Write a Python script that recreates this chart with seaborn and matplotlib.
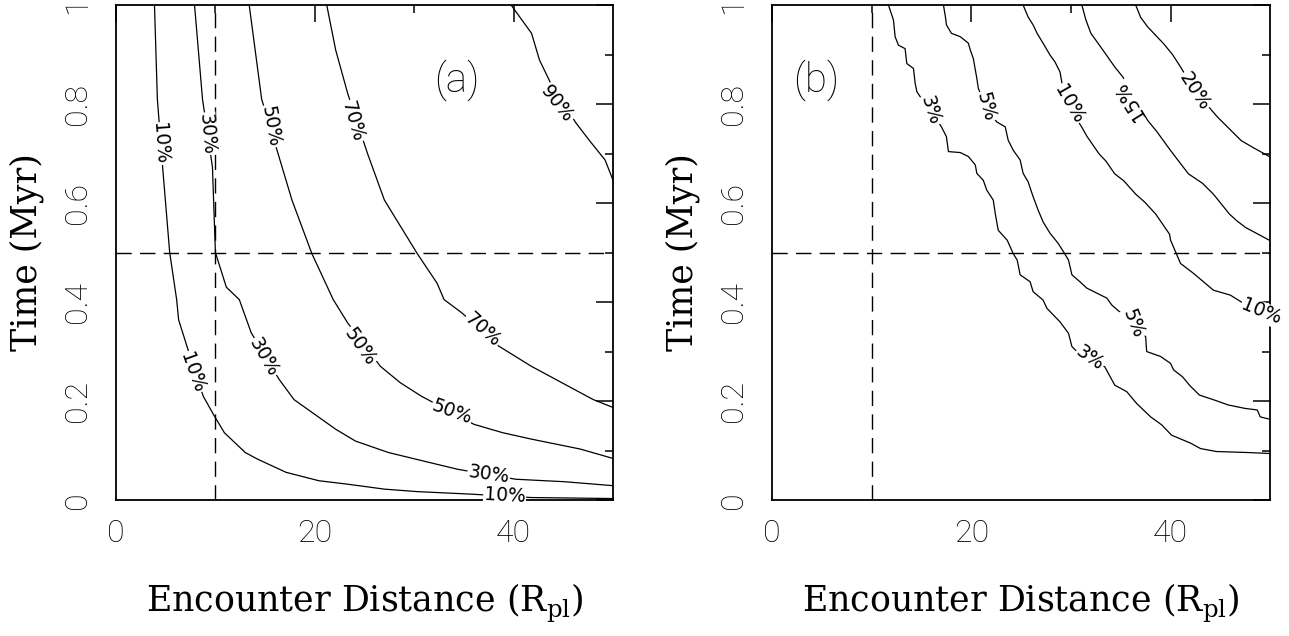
import numpy as np
import pandas as pd
import seaborn as sns
import matplotlib.pyplot as plt

sns.set_theme(style='white')
plt.rcParams['font.family'] = ['DejaVu Sans']
plt.rcParams['mathtext.fontset'] = 'custom'
plt.rcParams['mathtext.rm'] = 'DejaVu Serif'
for k in ['text.color', 'axes.labelcolor', 'xtick.color', 'ytick.color', 'axes.edgecolor']:
    plt.rcParams[k] = 'black'

# ---- panel (a) contours ----
a10_x = [3.87, 4.16, 4.7, 5.4, 6.1, 6.3, 7.24, 8.77, 9.8, 10.9, 13.0, 14.2, 17.1, 20.4, 23.3, 27.0, 30.3, 35.6, 41.8, 50]
a10_y = [1.0, 0.81, 0.67, 0.5, 0.405, 0.364, 0.304, 0.21, 0.173, 0.136, 0.096, 0.083, 0.056, 0.039, 0.032, 0.022, 0.017, 0.012, 0.005, 0.003]

a30_x = [7.9, 8.7, 9.7, 10.0, 11.1, 12.4, 13.6, 16.4, 17.9, 20.0, 22.1, 24.1, 27.4, 31.5, 34.4, 40.2, 45.1, 50]
a30_y = [1.0, 0.81, 0.673, 0.5, 0.43, 0.405, 0.338, 0.244, 0.203, 0.173, 0.143, 0.119, 0.096, 0.076, 0.062, 0.042, 0.037, 0.029]

a50_x = [13.4, 14.65, 16.3, 17.7, 19.7, 21.85, 23.3, 26.6, 28.6, 30.7, 36.0, 38.9, 41.8, 46.7, 50]
a50_y = [1.0, 0.81, 0.70, 0.606, 0.498, 0.405, 0.358, 0.27, 0.237, 0.21, 0.153, 0.136, 0.123, 0.103, 0.084]

a70_x = [21.2, 22.1, 23.3, 25.3, 27.0, 30.3, 32.3, 33.0, 34.8, 38.5, 41.8, 45.5, 48.0, 50]
a70_y = [1.0, 0.909, 0.822, 0.70, 0.606, 0.498, 0.438, 0.405, 0.378, 0.311, 0.27, 0.23, 0.203, 0.187]

a90_x = [39.75, 41.8, 42.6, 43.9, 46.3, 47.6, 49.2, 50]
a90_y = [1.0, 0.943, 0.889, 0.835, 0.761, 0.727, 0.687, 0.646]

# ---- panel (b) contours (stair-stepped in the original) ----
b3_x = [11.68, 12.18, 12.35, 12.68, 13.35, 13.52, 14.19, 14.36, 14.53, 14.86,
        16.0, 17.0, 17.5, 17.7, 18.9, 19.7, 20.4, 20.55, 21.2, 21.55,
        22.2, 22.4, 22.7, 23.6, 24.2, 24.6, 24.9, 25.9, 26.2, 27.2,
        27.6, 28.9, 29.75, 30.1, 30.6, 31.9, 33.4, 34.4, 35.6, 36.6,
        38.0, 39.1, 40.1, 42.0, 43.0, 44.6, 47.7, 50]
b3_y = [1.0, 0.970, 0.936, 0.919, 0.912, 0.882, 0.872, 0.842, 0.825, 0.815,
        0.785, 0.754, 0.734, 0.704, 0.702, 0.694, 0.677, 0.660, 0.646, 0.626,
        0.606, 0.579, 0.545, 0.525, 0.498, 0.485, 0.455, 0.441, 0.421, 0.404,
        0.387, 0.360, 0.337, 0.310, 0.300, 0.286, 0.269, 0.232, 0.219, 0.195,
        0.168, 0.152, 0.131, 0.115, 0.104, 0.098, 0.096, 0.094]

b5_x = [17.2, 17.4, 17.5, 18.0, 18.9, 19.7, 19.9, 20.2, 20.55, 20.7,
        21.4, 22.55, 23.4, 23.7, 24.2, 24.9, 25.2, 25.7, 26.2, 26.7,
        27.2, 27.9, 28.7, 29.3, 29.75, 30.1, 30.9, 31.6, 32.6, 33.6,
        34.1, 34.9, 36.3, 37.5, 37.6, 39.0, 40.0, 40.3, 41.2, 41.9,
        42.9, 44.4, 45.8, 47.5, 48.7, 49.0, 50]
b5_y = [1.0, 0.976, 0.96, 0.943, 0.936, 0.923, 0.909, 0.892, 0.852, 0.832,
        0.795, 0.764, 0.754, 0.727, 0.707, 0.687, 0.660, 0.643, 0.613, 0.586,
        0.562, 0.539, 0.519, 0.50, 0.485, 0.455, 0.441, 0.428, 0.418, 0.408,
        0.394, 0.380, 0.357, 0.330, 0.300, 0.290, 0.276, 0.263, 0.249, 0.232,
        0.212, 0.202, 0.192, 0.185, 0.182, 0.168, 0.163]

b10_x = [25.2, 25.7, 26.2, 26.6, 27.2, 27.9, 28.4, 28.9, 29.1, 29.6, 31.1, 31.6, 32.8, 33.5, 34.4, 35.3,
         36.5, 37.4, 38.5, 39.9, 40.0, 41.0, 42.3, 44.3, 46.0, 48.7, 50]
b10_y = [1.0, 0.976, 0.96, 0.943, 0.923, 0.899, 0.885, 0.865, 0.842, 0.80, 0.753, 0.735, 0.70, 0.685, 0.659, 0.645,
         0.618, 0.602, 0.578, 0.537, 0.525, 0.478, 0.458, 0.424, 0.414, 0.38, 0.37]

b15_x = [31.1, 31.5, 32.0, 33.0, 34.4, 35.2, 37.7, 38.6, 39.75, 40.8, 41.8, 43.2, 44.3, 45.9, 46.6, 47.5, 50]
b15_y = [1.0, 0.97, 0.943, 0.915, 0.875, 0.855, 0.767, 0.745, 0.713, 0.685, 0.659, 0.640, 0.618, 0.578, 0.565, 0.551, 0.524]

b20_x = [36.5, 37.0, 37.7, 39.3, 40.2, 41.0, 42.4, 44.7, 45.8, 47.1, 48.3, 50]
b20_y = [1.0, 0.975, 0.956, 0.922, 0.900, 0.875, 0.828, 0.774, 0.752, 0.726, 0.712, 0.693]

x_ticks = [0, 20, 40]
y_ticks = [0, 0.2, 0.4, 0.6, 0.8, 1]
y_ticklabels = ['0', '0.2', '0.4', '0.6', '0.8', '1']

# lines per panel
lines_a = [(a10_x, a10_y), (a30_x, a30_y), (a50_x, a50_y), (a70_x, a70_y), (a90_x, a90_y)]
lines_b = [(b3_x, b3_y), (b5_x, b5_y), (b10_x, b10_y), (b15_x, b15_y), (b20_x, b20_y)]

# inline contour labels: text, x, y, rotation
labels_a = [('10%', 4.4, 0.72, -86), ('30%', 9.15, 0.74, -85), ('50%', 15.5, 0.755, -80),
            ('70%', 23.8, 0.765, -74), ('90%', 44.4, 0.80, -52),
            ('10%', 7.7, 0.258, -70), ('30%', 14.85, 0.288, -60), ('50%', 24.5, 0.31, -55),
            ('70%', 36.9, 0.344, -42), ('50%', 33.8, 0.178, -20), ('30%', 37.5, 0.052, -8),
            ('10%', 39.1, 0.008, -3)]
labels_b = [('3%', 15.9, 0.787, -72), ('5%', 21.4, 0.795, -75), ('10%', 29.8, 0.80, -60),
            ('15%', 35.9, 0.807, 122), ('20%', 42.4, 0.826, -57), ('10%', 49.1, 0.38, -22),
            ('5%', 36.3, 0.357, -68), ('3%', 31.9, 0.286, -35)]

fig = plt.figure(figsize=(12.89, 6.36), dpi=100)
ax_a = fig.add_axes([0.090, 0.2138, 0.3856, 0.7782])
ax_b = fig.add_axes([0.599, 0.2138, 0.3864, 0.7782])

tick_font = dict(family='Roboto', weight='light', size=23)
tag_font = dict(family='Roboto', weight='light', size=29)
label_font = dict(family='DejaVu Serif', size=25)

for ax, lines, labels, tag, tx in [(ax_a, lines_a, labels_a, '(a)', 34.3), (ax_b, lines_b, labels_b, '(b)', 4.4)]:
    for xs, ys in lines:
        sns.lineplot(x=xs, y=ys, sort=False, estimator=None, color='black', lw=0.9, ax=ax)
    ax.axvline(10, color='black', lw=1.0, ls=(0, (11, 6)))
    ax.axhline(0.5, color='black', lw=1.0, ls=(0, (11, 6)))
    for txt, lx, ly, rot in labels:
        ax.text(lx, ly, txt, rotation=rot, ha='center', va='center', fontsize=13.5,
                rotation_mode='anchor', clip_on=False,
                bbox=dict(facecolor='white', edgecolor='none', pad=0.6))
    ax.text(tx, 0.848, tag, ha='center', va='center', **tag_font)

    ax.set_xlim(0, 50)
    ax.set_ylim(0, 1)
    ax.set_xticks(x_ticks)
    ax.set_xticks([10, 30], minor=True)
    ax.set_yticks(y_ticks)
    ax.set_yticks([0.1, 0.3, 0.5, 0.7, 0.9], minor=True)
    ax.set_xticklabels([str(t) for t in x_ticks], **tick_font)
    ax.set_yticklabels(y_ticklabels, rotation=90, va='center', **tick_font)
    ax.tick_params(which='both', direction='in', top=True, right=True, width=1.1, color='black')
    ax.tick_params(which='major', length=12)
    ax.tick_params(which='minor', length=6)
    ax.tick_params(axis='x', pad=14)
    ax.tick_params(axis='y', pad=17)
    for s in ax.spines.values():
        s.set_linewidth(1.3)
        s.set_color('black')

    ax.set_xlabel(r'Encounter Distance (R$_{\rm pl}$)', **label_font)
    ax.set_ylabel('Time (Myr)', **label_font)
    ax.xaxis.set_label_coords(0.5, -0.165)
    ax.yaxis.set_label_coords(-0.145, 0.5)

fig.savefig('out.png', dpi=100)
